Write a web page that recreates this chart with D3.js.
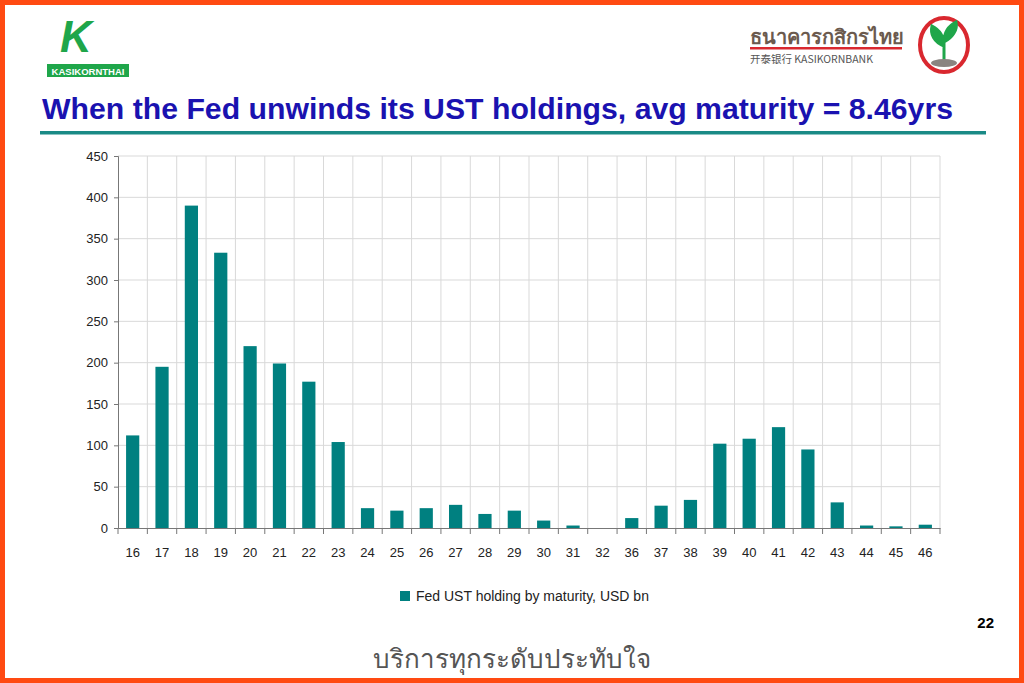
<!DOCTYPE html>
<html><head><meta charset="utf-8">
<script src="https://cdn.jsdelivr.net/npm/d3@7"></script>
<style>body{margin:0;background:#fff}svg{display:block;font-family:"Liberation Sans",Arial,sans-serif}</style>
</head><body><svg id="c" width="1024" height="683"></svg>
<script>
const maturities = ['16','17','18','19','20','21','22','23','24','25','26','27','28','29','30','31','32','36','37','38','39','40','41','42','43','44','45','46'];
const holdings = [112,195,390,333,220,199,177,104,24,21,24,28,17,21,9,3,0,12,27,34,102,108,122,95,31,3,2,4];
const yTicks = [0,50,100,150,200,250,300,350,400,450];

const svg = d3.select('#c');
svg.append('rect').attr('x',2.5).attr('y',2.5).attr('width',1019).attr('height',678)
  .attr('fill','#fff').attr('stroke','#ff4a12').attr('stroke-width',5);

// left logo
const lg = svg.append('g');
lg.append('text').attr('x',60).attr('y',52).attr('font-size',44).attr('font-weight','bold')
  .attr('fill','#1fa64a').attr('font-style','italic').text('K');
lg.append('rect').attr('x',47).attr('y',64).attr('width',82).attr('height',13).attr('fill','#1fa64a');
lg.append('text').attr('x',88).attr('y',74.5).attr('text-anchor','middle').attr('font-size',9.5)
  .attr('font-weight','bold').attr('fill','#fff').text('KASIKORNTHAI');

// right logo
svg.append('text').attr('x',750).attr('y',44).attr('font-size',20).attr('fill','#6b5a4e')
  .attr('font-family','"Noto Sans",sans-serif').attr('font-weight','bold').text('ธนาคารกสิกรไทย');
svg.append('rect').attr('x',750).attr('y',47).attr('width',152).attr('height',2.5).attr('fill','#d9282f');
svg.append('text').attr('x',750).attr('y',63).attr('font-size',10.5).attr('fill','#555')
  .attr('font-family','"Noto Sans CJK SC",sans-serif').text('开泰银行 KASIKORNBANK');
svg.append('ellipse').attr('cx',944).attr('cy',45).attr('rx',24).attr('ry',27)
  .attr('fill','#fff').attr('stroke','#d9282f').attr('stroke-width',4);
svg.append('path').attr('d','M944,62 L944,40 M944,46 C934,42 930,34 932,26 C940,30 944,36 944,46 M944,42 C952,38 958,30 956,22 C948,26 944,32 944,42')
  .attr('stroke','#1fa64a').attr('stroke-width',3).attr('fill','#1fa64a');
svg.append('ellipse').attr('cx',944).attr('cy',63).attr('rx',13).attr('ry',4).attr('fill','#8a8480');

// title
svg.append('text').attr('x',42).attr('y',119).attr('font-size',29).attr('font-weight','bold')
  .attr('fill','#1a12b0').attr('textLength',911).attr('lengthAdjust','spacingAndGlyphs')
  .text('When the Fed unwinds its UST holdings, avg maturity = 8.46yrs');
svg.append('rect').attr('x',40).attr('y',131).attr('width',946).attr('height',3.5).attr('fill','#1a8a86');

// chart
const m = {l:118, r:940, t:156, b:528};
const x = d3.scaleBand().domain(maturities).range([m.l,m.r]).paddingInner(0.55).paddingOuter(0.275);
const y = d3.scaleLinear().domain([0,450]).range([m.b,m.t]);

const grid = svg.append('g').attr('stroke','#d9d9d9').attr('stroke-width',1);
yTicks.slice(1).forEach(t => grid.append('line').attr('x1',m.l).attr('x2',m.r).attr('y1',y(t)).attr('y2',y(t)));
const step = x.step();
d3.range(1, maturities.length+1).forEach(i => {
  const xx = m.l + i*step;
  grid.append('line').attr('x1',xx).attr('x2',xx).attr('y1',m.t).attr('y2',m.b);
});

svg.append('g').selectAll('rect').data(holdings).join('rect')
  .attr('x',(d,i)=>x(maturities[i])).attr('width',x.bandwidth())
  .attr('y',d=>y(d)).attr('height',d=>m.b-y(d)).attr('fill','#008080');

const ya = svg.append('g').attr('transform',`translate(${m.l},0)`)
  .call(d3.axisLeft(y).tickValues(yTicks).tickSize(4).tickPadding(6));
ya.selectAll('text').attr('font-size',13).attr('fill','#222');
ya.selectAll('line,path').attr('stroke','#777');

const xa = svg.append('g').attr('transform',`translate(0,${m.b})`)
  .call(d3.axisBottom(x).tickSize(0).tickPadding(20));
xa.selectAll('text').attr('font-size',13).attr('fill','#222');
xa.select('path').attr('stroke','#777');
xa.selectAll('.tk').data(d3.range(0, maturities.length+1)).join('line')
  .attr('x1',i=>m.l+i*step).attr('x2',i=>m.l+i*step).attr('y1',0).attr('y2',6).attr('stroke','#777');

// legend
svg.append('rect').attr('x',400).attr('y',591).attr('width',10).attr('height',10).attr('fill','#008080');
svg.append('text').attr('x',416).attr('y',601).attr('font-size',14).attr('fill','#222')
  .text('Fed UST holding by maturity, USD bn');

svg.append('text').attr('x',994).attr('y',628).attr('text-anchor','end').attr('font-size',15)
  .attr('font-weight','bold').text('22');
svg.append('text').attr('x',512).attr('y',668).attr('text-anchor','middle').attr('font-size',26)
  .attr('fill','#555').attr('font-family','"Noto Sans",sans-serif').text('บริการทุกระดับประทับใจ');
</script></body></html>
